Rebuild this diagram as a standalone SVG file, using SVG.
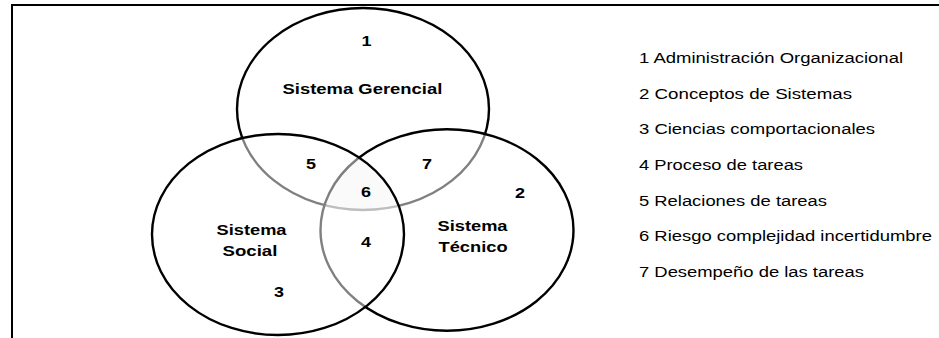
<svg xmlns="http://www.w3.org/2000/svg" width="939" height="338" viewBox="0 0 939 338">
<style>
.set{stroke:#000;stroke-width:2.4}
.fillw{fill:#fff;fill-opacity:0.5}
.lbl{font-family:"Liberation Sans",Arial,sans-serif;font-weight:bold;font-size:15px;fill:#000}
.num{font-family:"Liberation Sans",Arial,sans-serif;font-weight:bold;font-size:15px;fill:#000;text-anchor:middle}
.leg{font-family:"Liberation Sans",Arial,sans-serif;font-size:15px;fill:#000}
</style>
<defs>
<clipPath id="cL"><ellipse cx="278" cy="234.5" rx="126" ry="100.5"/></clipPath>
<clipPath id="cR"><ellipse cx="447" cy="230" rx="126.5" ry="100.7"/></clipPath>
</defs>
<rect x="0" y="0" width="939" height="338" fill="#fff"/>
<g id="frame">
<line x1="12" y1="5" x2="939" y2="5" stroke="#000" stroke-width="2"/>
<line x1="12" y1="4" x2="12" y2="338" stroke="#000" stroke-width="2"/>
</g>
<g id="sistema-gerencial">
<ellipse class="set" cx="363" cy="109" rx="126" ry="101" fill="none"/>
<text class="lbl" transform="translate(282.5,94) scale(1.22,1)" textLength="131" lengthAdjust="spacingAndGlyphs">Sistema Gerencial</text>
<text class="num" transform="translate(366.5,46) scale(1.2,1)">1</text>
</g>
<g id="sistema-tecnico">
<ellipse class="set fillw" cx="447" cy="230" rx="126.5" ry="100.7"/>
<text class="lbl" transform="translate(437.5,231) scale(1.22,1)" textLength="57.4" lengthAdjust="spacingAndGlyphs">Sistema</text>
<text class="lbl" transform="translate(438.5,252) scale(1.22,1)" textLength="56.6" lengthAdjust="spacingAndGlyphs">Técnico</text>
<text class="num" transform="translate(520,198) scale(1.2,1)">2</text>
</g>
<g id="sistema-social">
<ellipse class="set fillw" cx="278" cy="234.5" rx="126" ry="100.5"/>
<text class="lbl" transform="translate(216.5,235) scale(1.22,1)" textLength="57.4" lengthAdjust="spacingAndGlyphs">Sistema</text>
<text class="lbl" transform="translate(222.5,256) scale(1.22,1)" textLength="45" lengthAdjust="spacingAndGlyphs">Social</text>
<text class="num" transform="translate(279,296.5) scale(1.2,1)">3</text>
</g>
<g id="region-6-shade" clip-path="url(#cL)">
<ellipse cx="363" cy="109" rx="126" ry="101" fill="#000" fill-opacity="0.02" clip-path="url(#cR)"/>
</g>
<g id="regiones">
<text class="num" transform="translate(311,169) scale(1.2,1)">5</text>
<text class="num" transform="translate(427,169) scale(1.2,1)">7</text>
<text class="num" transform="translate(366,197) scale(1.2,1)">6</text>
<text class="num" transform="translate(366,247) scale(1.2,1)">4</text>
</g>
<g id="leyenda">
<text class="leg" transform="translate(639,63) scale(1.235,1)" textLength="213.8" lengthAdjust="spacingAndGlyphs">1 Administración Organizacional</text>
<text class="leg" transform="translate(639,98.7) scale(1.235,1)" textLength="172.5" lengthAdjust="spacingAndGlyphs">2 Conceptos de Sistemas</text>
<text class="leg" transform="translate(639,134.3) scale(1.235,1)" textLength="191.1" lengthAdjust="spacingAndGlyphs">3 Ciencias comportacionales</text>
<text class="leg" transform="translate(639,170) scale(1.235,1)" textLength="132.8" lengthAdjust="spacingAndGlyphs">4 Proceso de tareas</text>
<text class="leg" transform="translate(639,205.7) scale(1.235,1)" textLength="152.2" lengthAdjust="spacingAndGlyphs">5 Relaciones de tareas</text>
<text class="leg" transform="translate(639,241.3) scale(1.235,1)" textLength="237.2" lengthAdjust="spacingAndGlyphs">6 Riesgo complejidad incertidumbre</text>
<text class="leg" transform="translate(639,277) scale(1.235,1)" textLength="182.2" lengthAdjust="spacingAndGlyphs">7 Desempeño de las tareas</text>
</g>
</svg>
